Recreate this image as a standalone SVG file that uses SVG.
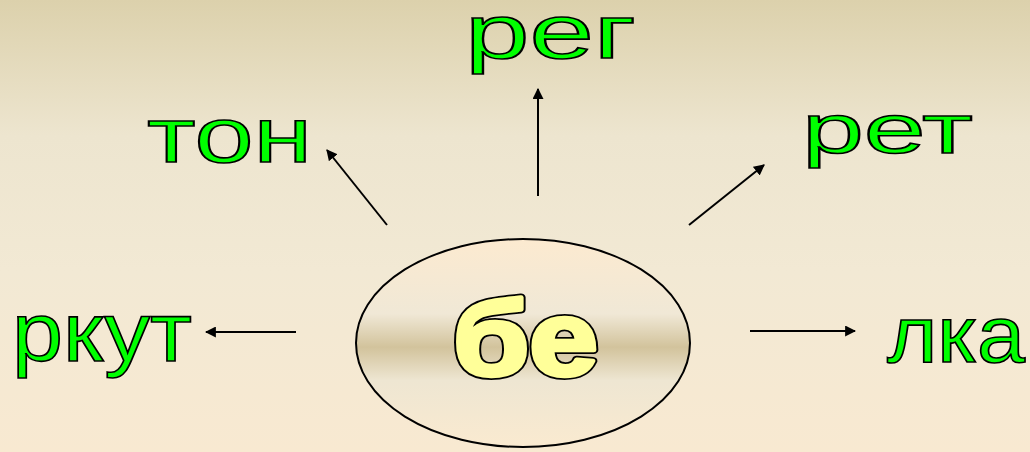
<svg xmlns="http://www.w3.org/2000/svg" width="1030" height="452" viewBox="0 0 1030 452">
<defs>
<linearGradient id="bg" x1="0" y1="0" x2="0" y2="1">
<stop offset="0" stop-color="#DCD1AC"/>
<stop offset="0.3" stop-color="#EDE5CF"/>
<stop offset="0.6" stop-color="#F2E9D4"/>
<stop offset="1" stop-color="#F8E9D1"/>
</linearGradient>
<linearGradient id="eg" x1="0" y1="0" x2="0" y2="1">
<stop offset="0" stop-color="#FCEAD0"/>
<stop offset="0.36" stop-color="#F0E8D6"/>
<stop offset="0.52" stop-color="#D2C39C"/>
<stop offset="0.68" stop-color="#EEE6D2"/>
<stop offset="1" stop-color="#FAEAD0"/>
</linearGradient>
<marker id="ah" viewBox="0 0 10 10" refX="9" refY="5" markerWidth="5.5" markerHeight="5.5" orient="auto" markerUnits="strokeWidth">
<path d="M0,0 L10,5 L0,10 Z" fill="#000"/>
</marker>
<style>
.w{font-family:"Liberation Sans",Arial,sans-serif;fill:#00FF00;stroke:#000;stroke-width:1.6}
.c line{stroke:#000;stroke-width:2;marker-end:url(#ah)}
.b{font-family:"Liberation Sans",Arial,sans-serif;font-weight:bold;font-size:106px;stroke-linejoin:round}
</style>
</defs>
<rect width="1030" height="452" fill="url(#bg)"/>
<g id="center">
<ellipse cx="523" cy="343" rx="167" ry="104" fill="url(#eg)" stroke="#000" stroke-width="2"/>
<text class="b" x="453" y="375" fill="#000" stroke="#000" stroke-width="8" textLength="145" lengthAdjust="spacingAndGlyphs">бе</text>
<text class="b" x="453" y="375" fill="#FFFF99" stroke="#FFFF99" stroke-width="4.5" textLength="145" lengthAdjust="spacingAndGlyphs">бе</text>
</g>
<g class="c" id="connectors">
<line x1="387" y1="225" x2="327" y2="150"/>
<line x1="538" y1="196" x2="538" y2="89"/>
<line x1="689" y1="225" x2="764" y2="165"/>
<line x1="296" y1="332" x2="206" y2="332"/>
<line x1="750" y1="331" x2="855" y2="331"/>
</g>
<g id="n-reg"><text class="w" x="465" y="58" font-size="76" textLength="171" lengthAdjust="spacingAndGlyphs">рег</text></g>
<g id="n-ton"><text class="w" x="147" y="162" font-size="78" textLength="165" lengthAdjust="spacingAndGlyphs">тон</text></g>
<g id="n-ret"><text class="w" x="802" y="153" font-size="70" textLength="171" lengthAdjust="spacingAndGlyphs">рет</text></g>
<g id="n-rkut"><text class="w" x="12" y="361" font-size="84" textLength="180" lengthAdjust="spacingAndGlyphs">ркут</text></g>
<g id="n-lka"><text class="w" x="887" y="362" font-size="80" textLength="138" lengthAdjust="spacingAndGlyphs">лка</text></g>
</svg>
